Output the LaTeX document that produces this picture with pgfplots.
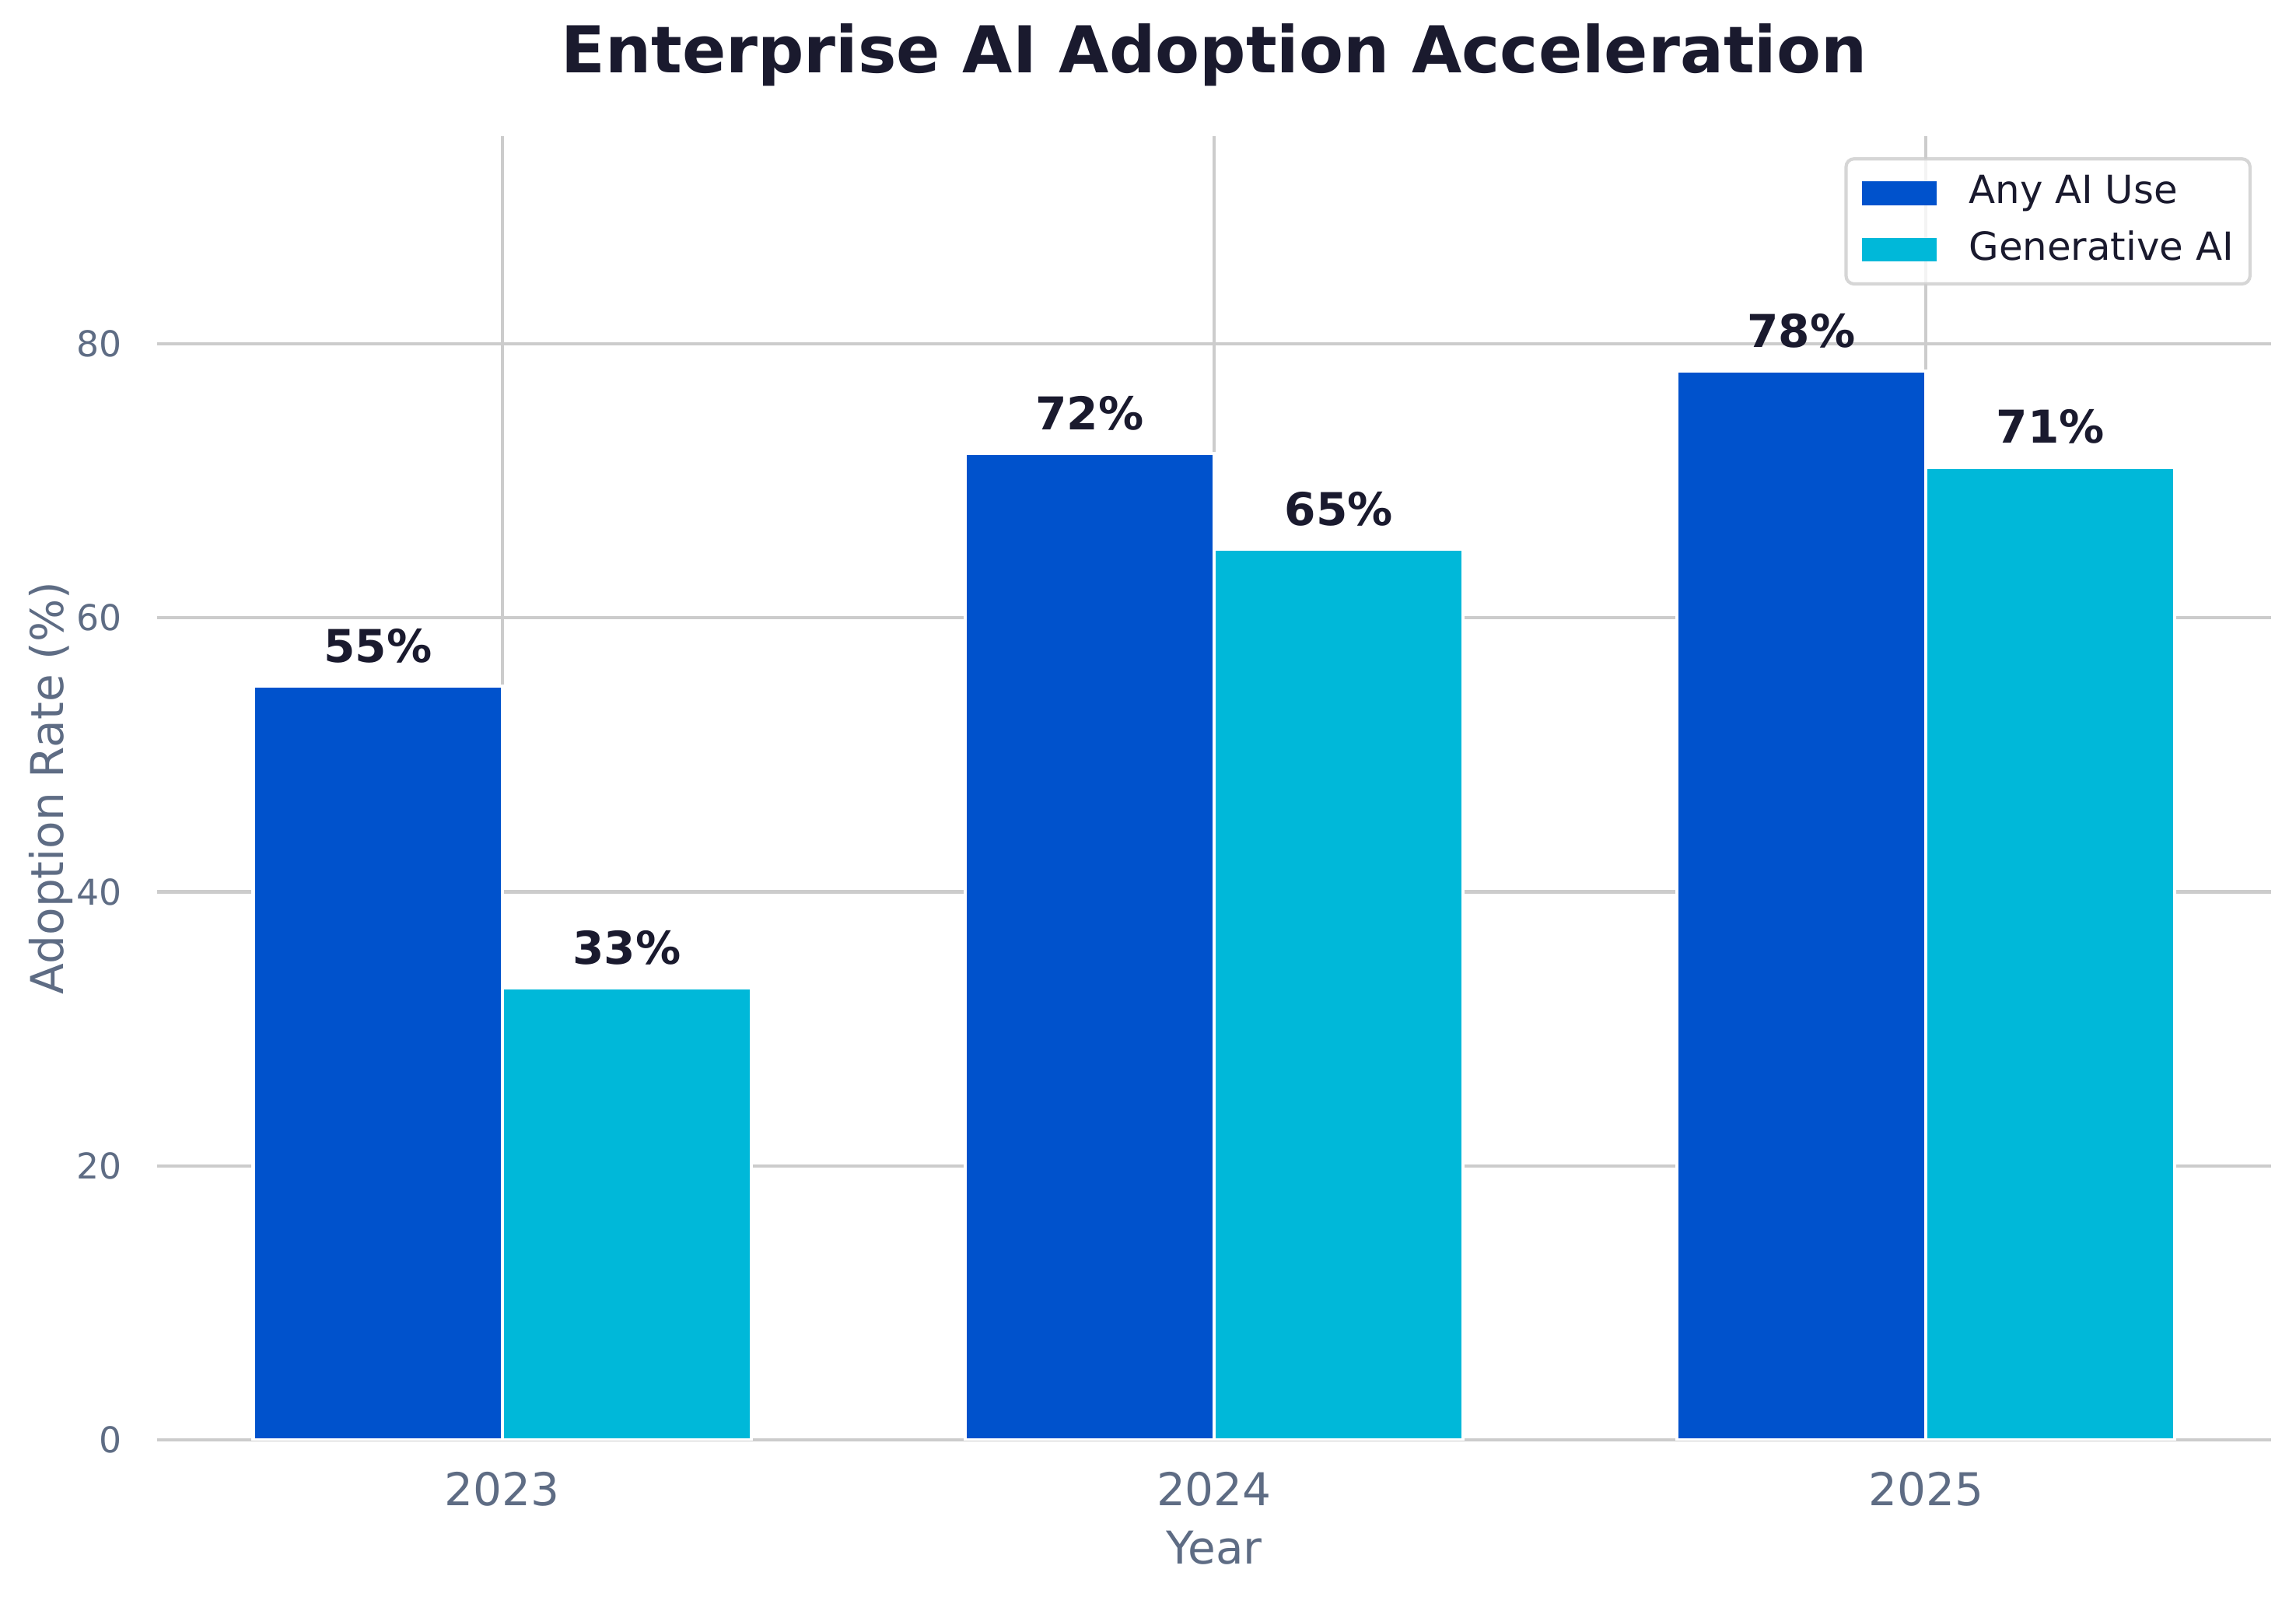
\documentclass[border=0pt]{standalone}
\usepackage{fontspec}
\setmainfont{DejaVu Sans}
\usepackage{pgfplots}
\pgfplotsset{compat=1.18}

\definecolor{anyai}{HTML}{0052CC}
\definecolor{genai}{HTML}{00B8D9}
\definecolor{ink}{HTML}{1A1A2E}
\definecolor{slate}{HTML}{5E6C84}
\definecolor{gridgray}{HTML}{CCCCCC}

\begin{document}
\begin{tikzpicture}
\begin{axis}[
  scale only axis,
  width=652.2bp, height=402.2bp,
  xmin=-0.485, xmax=2.485,
  ymin=0, ymax=95.16,
  ybar, bar width=0.35,
  legend image code/.code={\fill[#1, draw=none, fill opacity=1, sharp corners] (0bp,-3.7bp) rectangle (23bp,3.7bp);},
  xtick={0,1,2}, xticklabels={2023,2024,2025},
  ytick={0,20,40,60,80},
  /pgf/number format/assume math mode=true,
  major tick length=0pt,
  axis line style={draw=none},
  xmajorgrids, ymajorgrids,
  grid style={gridgray, line width=1bp},
  xticklabel style={font=\fontsize{14}{17}\selectfont, text=slate, inner sep=0pt, anchor=north, yshift=-9.8bp},
  yticklabel style={font=\fontsize{11}{13}\selectfont, text=slate, inner sep=0pt, anchor=east, xshift=-10.6bp},
  title={Enterprise AI Adoption Acceleration},
  every axis title shift=0pt,
  title style={font=\fontsize{20}{24}\selectfont\bfseries, text=ink, at={(axis description cs:0.5,1)}, anchor=base, yshift=19.44bp},
  xlabel={Year},
  ylabel={Adoption Rate (\%)},
  xlabel style={font=\fontsize{14}{17}\selectfont, text=slate, at={(axis description cs:0.5,-0.09498)}, anchor=base},
  ylabel style={font=\fontsize{14}{17}\selectfont, text=slate, at={(axis description cs:-0.0445,0.5)}, anchor=base},
  nodes near coords={\pgfmathprintnumber{\pgfplotspointmeta}\%},
  every node near coord/.append style={font=\fontsize{14}{17}\selectfont\bfseries, text=ink, anchor=base, inner sep=0pt, yshift=7.4bp},
  legend style={at={(1,1)}, anchor=north east, xshift=-6bp, yshift=-6.5bp,
    font=\fontsize{12}{14}\selectfont, text=ink,
    draw=gridgray, draw opacity=0.8, line width=1bp,
    fill=white, fill opacity=0.8, text opacity=1,
    rounded corners=2.5bp, inner xsep=5bp, inner ysep=4.8bp,
    row sep=6bp,
    nodes={inner sep=0pt, text height=9bp, text depth=2.5bp},
    /tikz/every odd column/.append style={column sep=9.9bp}},
  legend cell align=left,
]
\addplot[fill=anyai, draw=white, line width=1bp, bar shift=-0.175]
  coordinates {(0,55) (1,72) (2,78)};
\addplot[fill=genai, draw=white, line width=1bp, bar shift=0.175]
  coordinates {(0,33) (1,65) (2,71)};
\legend{Any AI Use, Generative AI}
\end{axis}
\pgfresetboundingbox
\path[use as bounding box] ([xshift=-48.48bp,yshift=-48.31bp]current axis.south west) rectangle ([xshift=7.7bp,yshift=42bp]current axis.north east);
\end{tikzpicture}
\end{document}
